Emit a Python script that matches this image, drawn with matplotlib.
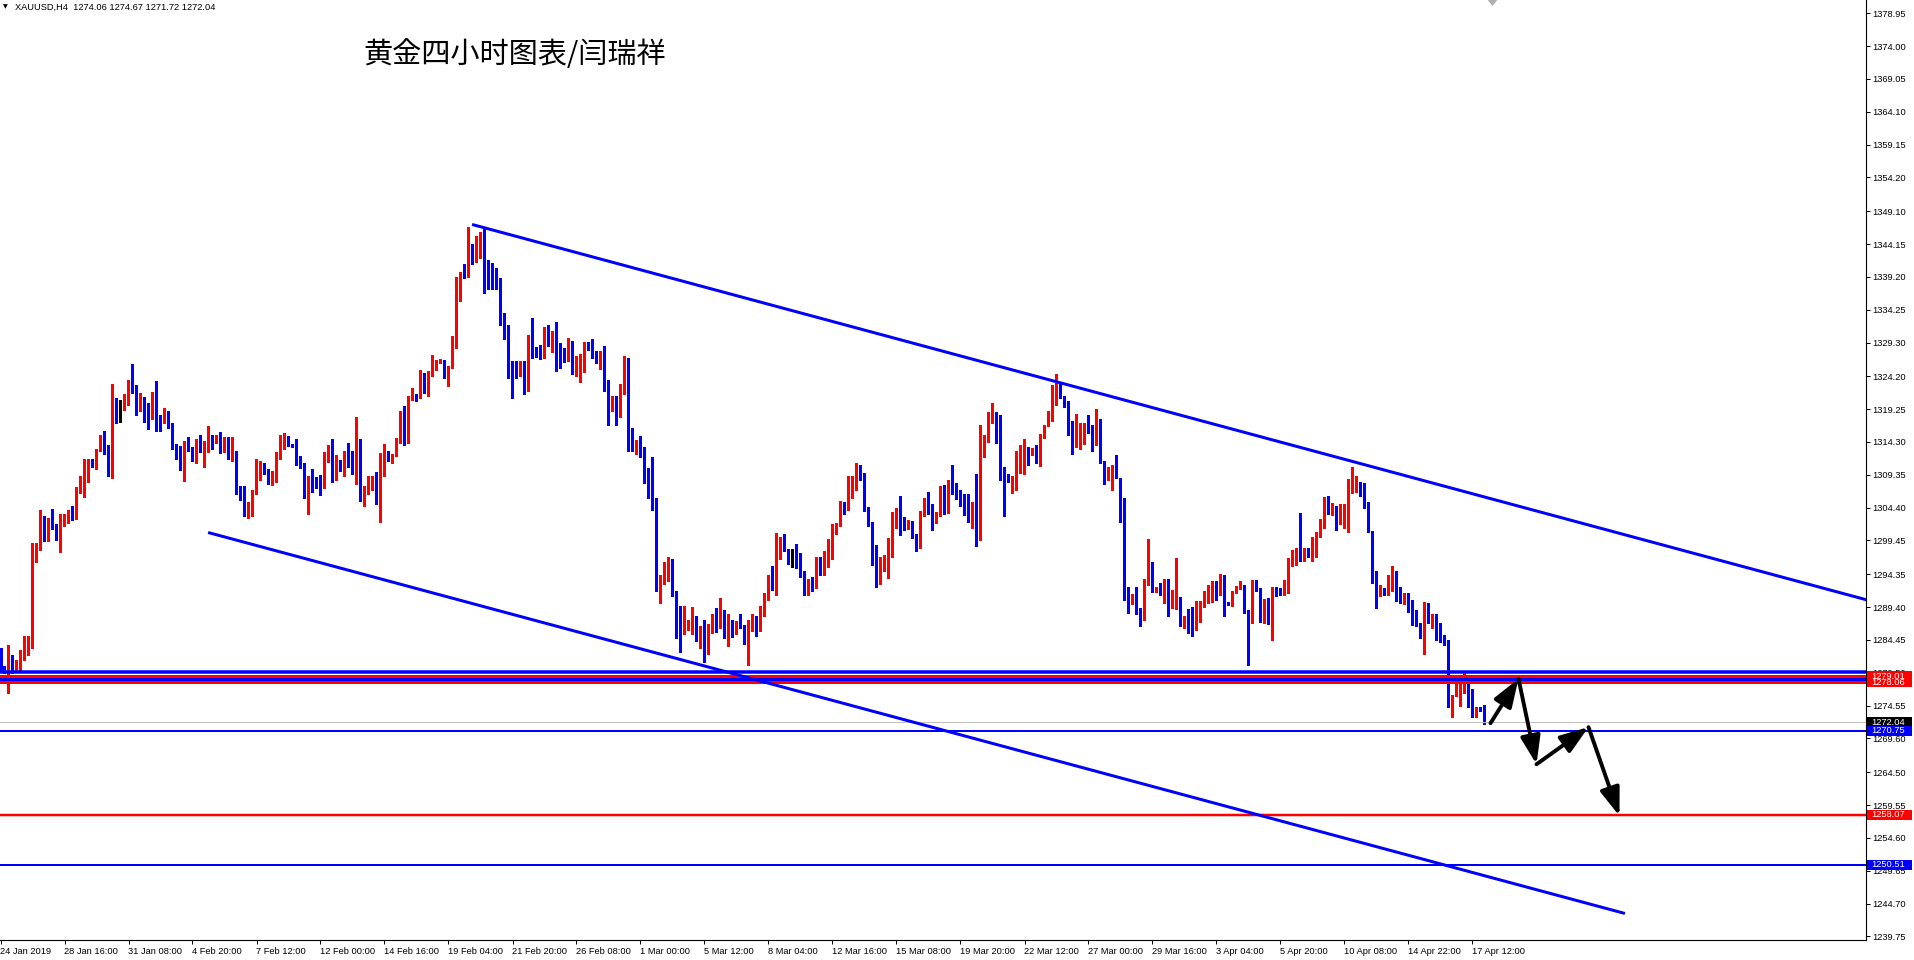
import matplotlib
matplotlib.use("Agg")
import matplotlib.pyplot as plt
from matplotlib import font_manager
from matplotlib.transforms import blended_transform_factory
from matplotlib.patches import Rectangle, Polygon
import numpy as np

# ---------------- data (XAUUSD H4) ----------------
first_open = 1282.8
close = [
1280.0,1279.7,1282.1,1279.7,1281.3,1281.6,1284.3,1284.5,1297.2,1298.3,
1302.7,1299.7,1302.6,1301.7,1299.5,1302.4,1302.5,1303.8,1303.5,1307.5,
1307.8,1310.9,1311.0,1310.5,1313.2,1314.5,1313.0,1312.0,1319.8,1319.1,
1319.1,1320.4,1323.3,1321.9,1320.7,1321.1,1318.3,1318.0,1321.2,1317.9,
1317.4,1317.8,1317.0,1313.8,1313.4,1310.6,1313.8,1313.3,1311.5,1314.7,
1312.9,1314.5,1314.7,1314.2,1314.8,1314.2,1314.8,1312.0,1312.3,1306.9,
1306.5,1303.8,1304.5,1306.5,1308.7,1310.4,1310.1,1308.5,1309.1,1312.0,
1313.6,1314.9,1314.0,1313.5,1311.5,1311.0,1307.5,1308.4,1308.2,1307.6,
1307.3,1311.6,1313.5,1309.5,1310.8,1310.0,1313.0,1311.5,1310.8,1314.3,
1306.4,1307.4,1308.1,1309.2,1305.8,1309.2,1312.8,1311.6,1312.4,1314.3,
1318.2,1314.2,1321.3,1321.5,1321.0,1324.5,1321.9,1324.8,1325.8,1326.5,
1326.6,1324.6,1325.6,1328.9,1337.9,1339.9,1339.3,1344.1,1342.3,1343.7,
1344.8,1341.0,1340.4,1339.8,1338.8,1333.7,1331.9,1326.3,1325.6,1325.1,
1326.2,1322.8,1329.3,1327.5,1327.3,1327.0,1331.3,1330.1,1330.3,1329.3,
1327.8,1327.4,1329.0,1324.7,1325.1,1327.3,1329.3,1329.0,1327.0,1326.5,
1326.8,1323.3,1319.0,1321.1,1318.6,1321.7,1325.8,1315.2,1313.6,1314.0,
1312.9,1308.8,1308.6,1305.4,1293.1,1293.4,1295.1,1296.6,1291.0,1286.3,
1285.3,1286.8,1287.0,1288.1,1284.8,1285.7,1284.0,1286.5,1287.8,1287.0,
1289.0,1285.3,1286.1,1285.8,1287.0,1286.4,1284.1,1286.3,1287.5,1286.6,
1288.6,1291.0,1293.5,1293.0,1296.8,1299.1,1298.0,1297.1,1297.1,1296.3,
1294.6,1292.6,1293.6,1292.4,1296.1,1294.4,1296.1,1296.9,1301.6,1301.8,
1304.9,1304.2,1307.6,1307.9,1310.6,1309.1,1303.9,1302.0,1297.1,1295.4,
1295.8,1295.9,1298.0,1303.6,1304.1,1301.7,1301.6,1302.1,1300.3,1298.9,
1303.9,1304.2,1304.1,1302.5,1303.3,1307.4,1304.4,1308.0,1307.5,1306.3,
1305.9,1304.6,1303.3,1304.7,1300.4,1314.2,1315.3,1318.6,1318.8,1315.2,
1310.3,1309.4,1308.4,1309.0,1312.4,1312.6,1313.2,1312.3,1313.0,1311.4,
1315.3,1316.9,1317.8,1321.5,1322.1,1321.2,1320.4,1315.6,1313.7,1314.7,
1315.7,1316.3,1316.2,1313.8,1317.3,1311.4,1308.9,1309.2,1309.6,1308.8,
1303.2,1292.0,1290.4,1291.4,1289.1,1287.9,1292.9,1295.3,1291.9,1292.2,
1291.5,1293.2,1289.5,1289.9,1290.6,1287.0,1287.2,1287.0,1286.1,1288.7,
1289.8,1291.4,1291.7,1292.5,1291.4,1292.9,1290.0,1289.8,1291.8,1292.3,
1292.7,1288.9,1287.5,1292.9,1291.9,1287.6,1290.0,1287.6,1291.7,1291.5,
1291.3,1291.6,1296.7,1297.0,1298.2,1297.3,1298.1,1297.7,1299.5,1300.1,
1301.7,1305.8,1303.9,1304.6,1302.4,1303.2,1303.5,1308.0,1308.1,1308.3,
1306.5,1305.1,1300.8,1294.8,1291.1,1292.0,1291.4,1292.3,1292.5,1291.2,
1290.0,1290.6,1289.5,1286.9,1286.6,1285.6,1288.5,1287.5,1288.0,1285.0,
1284.8,1284.4,1275.5,1276.2,1276.7,1276.9,1278.7,1274.5,1274.0,1274.2,
1274.06,1272.04]
high = [
1283.2,1280.5,1283.7,1282.2,1281.4,1283.0,1285.0,1285.0,1299.0,1299.0,
1304.1,1303.2,1302.8,1304.2,1301.9,1303.5,1303.5,1304.1,1304.6,1307.5,
1309.1,1311.8,1311.8,1311.8,1313.3,1315.3,1315.9,1313.9,1323.1,1320.9,
1320.7,1321.6,1323.6,1326.1,1322.9,1321.7,1321.1,1320.2,1321.8,1323.5,
1318.4,1319.4,1318.9,1317.2,1314.0,1313.7,1314.5,1315.1,1313.5,1314.7,
1315.3,1314.5,1316.7,1315.4,1315.4,1315.8,1315.1,1315.1,1315.1,1313.0,
1307.6,1307.7,1305.3,1307.1,1311.8,1311.5,1311.1,1310.3,1309.9,1312.8,
1315.3,1315.6,1315.2,1314.0,1314.8,1312.2,1311.2,1309.1,1310.3,1309.0,
1309.3,1312.8,1313.8,1314.7,1312.4,1311.6,1313.0,1314.2,1312.9,1318.0,
1314.8,1307.6,1309.1,1309.2,1309.7,1312.7,1314.0,1313.0,1312.5,1314.9,
1319.0,1319.8,1321.3,1322.5,1321.6,1325.2,1324.7,1325.0,1327.4,1326.7,
1326.8,1326.6,1325.8,1330.3,1339.2,1339.9,1341.2,1346.7,1344.1,1345.4,
1345.9,1346.4,1341.7,1341.3,1340.6,1339.0,1333.8,1332.0,1326.5,1326.5,
1326.5,1326.5,1330.5,1333.0,1328.6,1329.0,1331.7,1331.9,1331.0,1332.4,
1329.3,1328.5,1330.0,1329.6,1327.3,1327.5,1329.4,1329.4,1329.8,1328.0,
1328.0,1328.8,1323.7,1321.2,1321.3,1323.0,1327.3,1326.9,1316.4,1314.6,
1315.2,1313.5,1310.4,1312.0,1305.8,1294.3,1296.2,1296.9,1296.7,1291.9,
1289.5,1289.6,1287.5,1289.4,1288.1,1286.5,1287.5,1286.9,1288.3,1289.3,
1290.8,1289.0,1288.4,1287.4,1287.3,1288.4,1286.7,1287.4,1288.4,1288.0,
1289.5,1291.5,1294.3,1295.6,1300.6,1300.0,1300.4,1298.1,1298.2,1298.9,
1297.6,1294.8,1293.6,1294.0,1296.9,1297.0,1297.8,1299.6,1301.9,1302.1,
1305.4,1305.2,1309.1,1309.2,1311.2,1310.9,1309.6,1304.5,1302.2,1298.8,
1296.9,1297.3,1299.8,1303.7,1304.3,1306.1,1303.0,1302.6,1302.4,1300.4,
1303.9,1305.9,1306.7,1304.9,1303.7,1307.6,1307.8,1308.6,1310.8,1308.1,
1307.1,1306.5,1306.5,1305.2,1309.4,1316.8,1315.4,1318.8,1320.2,1318.8,
1318.4,1310.5,1309.5,1309.2,1313.0,1313.8,1314.8,1313.5,1313.4,1313.8,
1315.5,1316.9,1318.9,1322.9,1324.5,1323.3,1321.3,1320.5,1317.5,1318.5,
1317.2,1317.2,1318.4,1316.9,1319.2,1317.8,1311.5,1310.5,1310.9,1312.3,
1308.9,1305.9,1292.5,1291.4,1292.5,1289.2,1293.6,1299.6,1296.2,1292.5,
1293.0,1293.6,1293.6,1292.0,1296.8,1290.9,1288.0,1289.1,1289.4,1290.3,
1290.3,1291.8,1292.8,1293.3,1293.4,1294.4,1294.3,1290.2,1291.9,1292.6,
1293.4,1292.6,1289.0,1293.5,1293.5,1292.3,1290.6,1290.8,1292.5,1292.5,
1292.3,1293.5,1296.8,1298.0,1298.3,1303.6,1298.3,1298.3,1300.0,1300.8,
1302.7,1306.0,1306.2,1305.1,1304.4,1304.9,1304.9,1308.7,1310.6,1309.2,
1308.2,1308.1,1305.2,1300.9,1294.9,1292.8,1292.3,1294.3,1295.6,1294.8,
1292.4,1291.5,1291.5,1290.4,1288.9,1287.0,1290.1,1290.0,1288.3,1288.3,
1287.0,1285.2,1284.5,1276.2,1278.0,1277.8,1279.7,1278.8,1277.0,1274.4,
1274.4,1274.67]
low = [
1279.9,1279.4,1276.5,1279.5,1279.6,1279.7,1281.4,1282.2,1283.3,1296.2,
1298.0,1299.3,1299.3,1301.2,1299.5,1297.7,1301.7,1302.1,1302.6,1302.7,
1306.6,1306.0,1308.3,1310.5,1310.3,1312.9,1312.5,1309.1,1308.8,1317.2,
1317.3,1319.1,1319.9,1321.7,1318.4,1319.0,1317.3,1316.3,1317.7,1316.0,
1315.9,1317.2,1316.4,1313.2,1311.7,1310.1,1308.4,1312.9,1311.4,1311.2,
1312.8,1310.5,1312.8,1313.3,1314.1,1312.6,1312.8,1311.8,1311.4,1306.5,
1305.6,1303.2,1302.8,1303.2,1306.4,1308.5,1309.4,1308.0,1307.8,1308.2,
1311.7,1313.2,1313.7,1313.5,1310.9,1310.4,1305.9,1303.5,1306.8,1307.3,
1306.3,1307.3,1311.3,1308.3,1308.6,1309.9,1309.1,1310.6,1309.5,1307.9,
1305.4,1304.7,1306.4,1307.1,1305.0,1302.2,1309.1,1311.4,1311.2,1312.2,
1314.1,1313.9,1314.1,1320.7,1320.5,1320.9,1321.7,1321.2,1324.2,1325.1,
1326.2,1323.9,1322.7,1325.4,1328.4,1335.6,1339.1,1339.2,1341.1,1341.4,
1342.1,1336.7,1337.3,1337.3,1337.3,1331.9,1329.8,1324.0,1321.0,1323.9,
1324.2,1321.6,1322.0,1327.0,1327.1,1326.8,1326.9,1328.8,1327.9,1325.0,
1325.5,1326.4,1326.5,1324.6,1324.3,1323.3,1324.8,1328.2,1327.0,1326.2,
1325.3,1322.0,1316.8,1318.9,1316.9,1318.0,1321.6,1312.9,1312.9,1312.5,
1312.1,1308.1,1305.8,1304.0,1291.9,1290.0,1292.9,1293.4,1291.0,1284.8,
1282.7,1285.5,1286.0,1285.3,1284.3,1283.2,1281.1,1282.3,1285.5,1285.7,
1286.3,1284.7,1283.5,1284.9,1285.3,1286.3,1283.8,1280.6,1285.8,1285.0,
1285.8,1288.0,1290.5,1292.0,1291.3,1296.7,1297.9,1295.9,1295.4,1295.3,
1293.9,1291.3,1291.3,1291.8,1292.3,1294.2,1294.3,1295.4,1296.6,1300.4,
1301.6,1303.5,1304.1,1305.9,1307.1,1308.5,1303.9,1301.6,1295.8,1292.5,
1292.9,1294.8,1293.8,1296.9,1301.3,1300.3,1301.1,1301.2,1299.8,1297.8,
1298.3,1303.1,1303.5,1301.0,1302.1,1303.1,1303.5,1303.6,1306.5,1305.7,
1304.7,1303.3,1302.2,1301.4,1298.6,1299.5,1312.0,1314.3,1317.2,1314.1,
1308.5,1303.2,1308.3,1306.6,1307.1,1309.6,1309.4,1310.9,1312.3,1311.2,
1310.7,1314.9,1316.7,1317.4,1319.9,1320.9,1319.5,1315.4,1312.5,1313.6,
1313.2,1314.0,1315.7,1312.9,1313.8,1311.2,1307.9,1308.6,1307.0,1308.8,
1302.3,1290.4,1288.5,1289.8,1288.4,1286.5,1287.5,1292.8,1291.7,1291.7,
1291.3,1290.0,1288.0,1289.3,1289.1,1286.5,1286.2,1285.5,1285.1,1286.0,
1287.2,1289.4,1290.0,1290.2,1290.5,1291.2,1288.1,1289.7,1289.6,1291.5,
1292.2,1288.5,1280.6,1287.0,1291.8,1287.2,1287.0,1286.9,1284.4,1291.0,
1291.3,1291.3,1291.5,1295.6,1295.8,1296.4,1296.3,1297.0,1296.3,1297.0,
1300.0,1301.3,1303.5,1303.3,1301.0,1302.0,1301.4,1300.7,1306.6,1306.7,
1306.2,1304.4,1300.7,1293.1,1289.3,1291.0,1291.3,1291.3,1291.8,1290.3,
1290.0,1289.9,1288.7,1286.7,1286.5,1284.7,1282.4,1287.0,1286.3,1284.5,
1284.2,1283.7,1274.4,1272.9,1276.0,1274.5,1276.4,1274.4,1272.9,1272.9,
1273.8,1271.72]

date_labels = ["24 Jan 2019", "28 Jan 16:00", "31 Jan 08:00", "4 Feb 20:00", "7 Feb 12:00",
               "12 Feb 00:00", "14 Feb 16:00", "19 Feb 04:00", "21 Feb 20:00", "26 Feb 08:00",
               "1 Mar 00:00", "5 Mar 12:00", "8 Mar 04:00", "12 Mar 16:00", "15 Mar 08:00",
               "19 Mar 20:00", "22 Mar 12:00", "27 Mar 00:00", "29 Mar 16:00", "3 Apr 04:00",
               "5 Apr 20:00", "10 Apr 08:00", "14 Apr 22:00", "17 Apr 12:00"]
date_label_bars = [0, 16, 32, 48, 64, 80, 96, 112, 128, 144, 160, 176, 192, 208, 224,
                   240, 256, 272, 288, 304, 320, 336, 352, 368]

price_ticks = [1378.95, 1374.00, 1369.05, 1364.10, 1359.15, 1354.20, 1349.10, 1344.15,
               1339.20, 1334.25, 1329.30, 1324.20, 1319.25, 1314.30, 1309.35, 1304.40,
               1299.45, 1294.35, 1289.40, 1284.45, 1279.50, 1274.55, 1269.60, 1264.50,
               1259.55, 1254.60, 1249.65, 1244.70, 1239.75]

# horizontal levels
hlines_price = [1279.55, 1279.01, 1278.52, 1278.06, 1272.04, 1270.75, 1258.07, 1250.51]
hlines_color = ["#0000ff", "#ff0000", "#0000ff", "#ff0000", "#c0c0c0", "#0000ff", "#ff0000", "#0000ff"]
hlines_width = [3.5, 3.0, 3.0, 3.0, 1.0, 2.0, 2.5, 2.0]
label_order_price = [1278.06, 1279.01, 1272.04, 1270.75, 1258.07, 1250.51]
label_order_color = ["#ff0000", "#ff0000", "#000000", "#0000ff", "#ff0000", "#0000ff"]

# trend channel (bar index, price)
upper_x = [117.9, 466.5]
upper_p = [1347.1, 1290.5]
lower_x = [51.9, 406.1]
lower_p = [1300.65, 1243.2]

# projected path arrows (bar index, price)
arrow_x = [372.5, 379.5, 384.0, 397.0, 404.75]
arrow_p = [1271.9, 1278.6, 1265.7, 1271.3, 1257.9]

# chart-shift marker position (bar index)
shift_marker_bar = 373.0

title_text = "黄金四小时图表/闫瑞祥"
header_text = "XAUUSD,H4  1274.06 1274.67 1271.72 1272.04"

# ---------------- figure ----------------
def pick_font(cands):
    names = {f.name for f in font_manager.fontManager.ttflist}
    for c in cands:
        if c in names:
            return c
    return "DejaVu Sans"

small_font = pick_font(["Liberation Sans", "Arial", "DejaVu Sans"])
cjk_font = pick_font(["Noto Sans CJK SC", "Noto Sans CJK JP"])
FS = 6.7

W, H = 1915, 960
fig = plt.figure(figsize=(W / 100, H / 100), dpi=100)
fig.patch.set_facecolor("white")
ax_left_px, ax_right_px, ax_bottom_px = 0, 1866, 940
ax = fig.add_axes([ax_left_px / W, (H - ax_bottom_px) / H, (ax_right_px - ax_left_px) / W, ax_bottom_px / H])
ax.set_facecolor("white")

n = len(close)
x = np.arange(n)
c = np.array(close)
o = np.concatenate([[first_open], c[:-1]])
h = np.maximum(np.array(high), np.maximum(o, c))
l = np.minimum(np.array(low), np.minimum(o, c))

cols = []
for oo, cc in zip(o, c):
    if abs(cc - oo) < 0.005:
        cols.append("#000000")
    elif cc > oo:
        cols.append("#ff0000")
    else:
        cols.append("#0000ff")

ax.vlines(x, l, h, colors=cols, linewidth=1.0, antialiased=False, zorder=3)
body_bottom = np.minimum(o, c)
body_h = np.maximum(np.abs(c - o), 0.16)
ax.bar(x, body_h, bottom=body_bottom, width=0.8, color=cols, linewidth=0,
       antialiased=False, zorder=3)

ax.set_xlim(-0.125, 466.375)
ax.set_ylim(1239.2, 1380.95)

px2pt = 0.72
for p, col, wpx in zip(hlines_price, hlines_color, hlines_width):
    ax.axhline(p, color=col, linewidth=wpx * px2pt, zorder=4)

ax.plot(upper_x, upper_p, color="#0000ff", linewidth=3 * px2pt, zorder=5, solid_capstyle="butt")
ax.plot(lower_x, lower_p, color="#0000ff", linewidth=3 * px2pt, zorder=5, solid_capstyle="butt")

for i in range(len(arrow_x) - 1):
    ax.annotate("", xy=(arrow_x[i + 1], arrow_p[i + 1]), xytext=(arrow_x[i], arrow_p[i]),
                arrowprops=dict(arrowstyle="-|>,head_length=1.7,head_width=0.6",
                                color="black", linewidth=2.8, shrinkA=0, shrinkB=0),
                zorder=6)

# small grey chart-shift marker at the top edge
tx = blended_transform_factory(ax.transData, ax.transAxes)
mk_w = 1.2
ax.add_patch(Polygon([[shift_marker_bar - mk_w, 1.0], [shift_marker_bar + mk_w, 1.0],
                      [shift_marker_bar, 1.0 - 6 / 940]], closed=True, transform=tx,
                     facecolor="#b0b0b0", edgecolor="none", clip_on=False, zorder=7))

for s in ["top", "left"]:
    ax.spines[s].set_visible(False)
for s in ["right", "bottom"]:
    ax.spines[s].set_color("black")
    ax.spines[s].set_linewidth(0.8)

ax.yaxis.tick_right()
ax.set_yticks(price_ticks)
ax.set_yticklabels([f"{p:.2f}" for p in price_ticks], fontsize=FS, family=small_font)
ax.tick_params(axis="y", direction="out", length=3, width=0.7, pad=1.5, colors="black")

ax.set_xticks(date_label_bars)
ax.set_xticklabels(date_labels, fontsize=FS, family=small_font, ha="left")
ax.tick_params(axis="x", direction="out", length=3, width=0.7, pad=2, colors="black")

trans = blended_transform_factory(ax.transAxes, ax.transData)
ppx = (1380.95 - 1239.2) / 940.0
box_h = 10 * ppx
for p, col in zip(label_order_price, label_order_color):
    ax.add_patch(Rectangle((1.0 + 1 / 1866, p - box_h / 2), 45 / 1866, box_h, transform=trans,
                           facecolor=col, edgecolor="none", clip_on=False, zorder=10))
    ax.text(1.0 + 5 / 1866, p, f"{p:.2f}", transform=trans, color="white", fontsize=FS,
            family=small_font, ha="left", va="center", clip_on=False, zorder=11)

fig.text(3 / W, 1 - 7 / H, "▼", fontsize=4.5, family="DejaVu Sans", ha="left", va="center")
fig.text(15 / W, 1 - 7 / H, header_text, fontsize=FS, family=small_font, ha="left", va="center")
fig.text(515 / W, 1 - 55 / H, title_text, fontsize=21, family=[cjk_font, "DejaVu Sans"],
         ha="center", va="center", color="black")

fig.savefig("out.png", dpi=100, facecolor="white")
